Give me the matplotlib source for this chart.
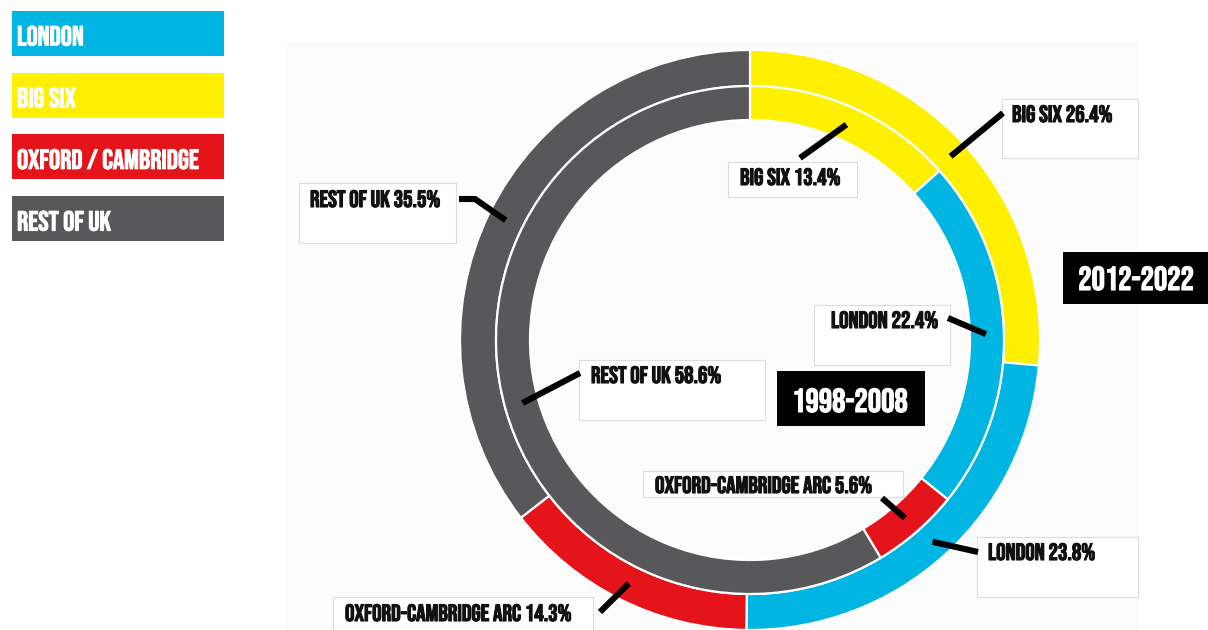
''' Two-ring doughnut chart of regional shares, 1998-2008 vs 2012-2022 '''

import matplotlib.pyplot as plt
import matplotlib.patheffects as pe
from matplotlib.patches import Rectangle
import numpy as np

plt.rcParams['font.family'] = ['Bebas Neue', 'Barlow Condensed', 'DejaVu Sans']

regions = ['BIG SIX', 'LONDON', 'OXFORD-CAMBRIDGE ARC', 'REST OF UK']
share_1998_2008 = [13.4, 22.4, 5.6, 58.6]  # inner ring
share_2012_2022 = [26.4, 23.8, 14.3, 35.5]  # outer ring
periods = ['1998-2008', '2012-2022']

legend_labels = ['LONDON', 'BIG SIX', 'OXFORD / CAMBRIDGE', 'REST OF UK']
legend_regions = ['LONDON', 'BIG SIX', 'OXFORD-CAMBRIDGE ARC', 'REST OF UK']

colours = {'BIG SIX': '#fff000',
           'LONDON': '#00b5e2',
           'OXFORD-CAMBRIDGE ARC': '#e5141b',
           'REST OF UK': '#58575a'}

CENTRE = (750, 340)
R_OUTER = 290
R_MID = 254
R_INNER = 220

# callout layout (pixel coords, y down): box, text baseline position, leader start points
callouts = {
    ('2012-2022', 'BIG SIX'): ((1002, 99, 136, 59), (1012, 122), [(1003, 113)]),
    ('2012-2022', 'LONDON'): ((977, 537, 161, 60), (988, 560), [(978, 552)]),
    ('2012-2022', 'OXFORD-CAMBRIDGE ARC'): ((333, 597, 260, 40), (345, 621), [(600, 612)]),
    ('2012-2022', 'REST OF UK'): ((299, 183, 157, 60), (310, 207), [(459, 199), (475, 199)]),
    ('1998-2008', 'BIG SIX'): ((728, 162, 129, 35), (740, 185), [(800, 158)]),
    ('1998-2008', 'LONDON'): ((814, 305, 136, 60), (831, 328), [(948, 318)]),
    ('1998-2008', 'OXFORD-CAMBRIDGE ARC'): ((643, 471, 260, 26), (655, 493), [(882, 498)]),
    ('1998-2008', 'REST OF UK'): ((579, 360, 186, 60), (591, 383), [(580, 373)]),
}

year_boxes = {'2012-2022': (1063, 252, 150, 52), '1998-2008': (777, 371, 148, 55)}
year_text = {'2012-2022': (1136, 290), '1998-2008': (850, 412)}


def ring_point(shares, i, r):
    '''Point at the middle angle of wedge i, at radius r'''
    frac = np.cumsum([0] + list(shares)) / sum(shares)
    mid = (frac[i] + frac[i + 1]) / 2
    theta = np.deg2rad(-90 + 360 * mid)  # y axis is flipped so this runs clockwise from the top
    return CENTRE[0] + r * np.cos(theta), CENTRE[1] + r * np.sin(theta)


def heavy(colour, w=0.8):
    '''Thin outline in the text colour to make the type a little heavier'''
    return [pe.withStroke(linewidth=w, foreground=colour)]


fig = plt.figure(figsize=(12.08, 6.3), dpi=100)
ax = fig.add_axes([0, 0, 1, 1])

# faint panel behind the chart
ax.add_patch(Rectangle((285, 42), 853, 600, facecolor='#fcfcfc', edgecolor='none', zorder=0))

wedge_style = dict(edgecolor='white', linewidth=1.6)
ax.pie(share_2012_2022, colors=[colours[r] for r in regions], radius=R_OUTER, center=CENTRE,
       startangle=-90, counterclock=True, wedgeprops=dict(width=R_OUTER - R_MID, **wedge_style))
ax.pie(share_1998_2008, colors=[colours[r] for r in regions], radius=R_MID, center=CENTRE,
       startangle=-90, counterclock=True, wedgeprops=dict(width=R_MID - R_INNER, **wedge_style))

ring_data = {'2012-2022': (share_2012_2022, 272), '1998-2008': (share_1998_2008, 236)}

for (period, region), (box, text_xy, start) in callouts.items():
    shares, r = ring_data[period]
    i = regions.index(region)
    bx, by, bw, bh = box
    ax.add_patch(Rectangle((bx, by), bw, bh, facecolor='white', edgecolor='#dcdcdc',
                           linewidth=0.8, zorder=3))
    ax.text(text_xy[0], text_xy[1], '%s %.1f%%' % (region, shares[i]), fontsize=17,
            color='#111111', ha='left', va='baseline', zorder=4, path_effects=heavy('#111111'))
    pts = start + [ring_point(shares, i, r)]
    xs, ys = zip(*pts)
    ax.plot(xs, ys, color='black', linewidth=4.4, solid_capstyle='butt',
            solid_joinstyle='miter', zorder=5)

for period in periods:
    bx, by, bw, bh = year_boxes[period]
    ax.add_patch(Rectangle((bx, by), bw, bh, facecolor='black', edgecolor='none', zorder=6))
    tx, ty = year_text[period]
    ax.text(tx, ty, period, fontsize=24, color='white', ha='center', va='baseline', zorder=7,
            path_effects=heavy('white'))

# legend boxes top left
for k, (label, region) in enumerate(zip(legend_labels, legend_regions)):
    top = 11 + k * 61.7
    ax.add_patch(Rectangle((12, top), 212, 45, facecolor=colours[region], edgecolor='none'))
    ax.text(17, top + 34.5, label, fontsize=20, color='white', ha='left', va='baseline',
            path_effects=heavy('white', 0.7))

ax.set_xlim(0, 1208)
ax.set_ylim(630, 0)
ax.set_aspect('equal')
ax.axis('off')

fig.savefig('out.png', dpi=100, facecolor='white')
